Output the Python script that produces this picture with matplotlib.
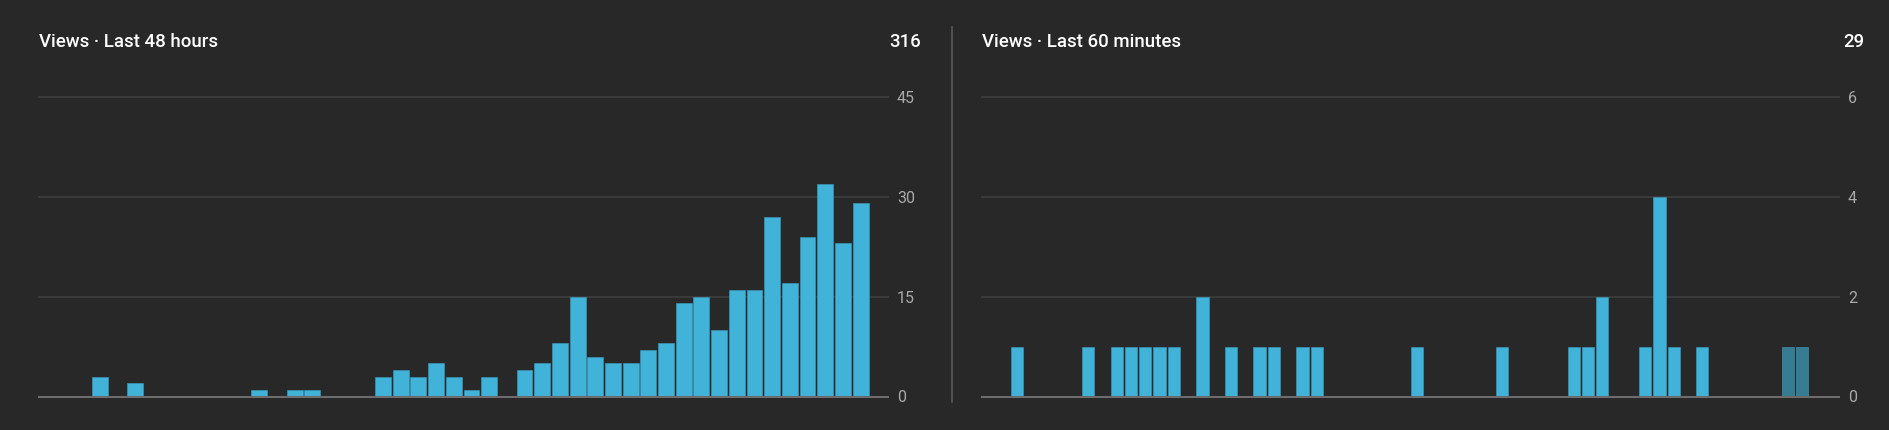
import numpy as np
import matplotlib
matplotlib.use("Agg")
import matplotlib.pyplot as plt

plt.rcParams["font.family"] = ["Roboto", "DejaVu Sans"]

# hourly views, last 48 hours (oldest first)
hours_views = [0, 0, 0, 3, 0, 2, 0, 0, 0, 0, 0, 0, 1, 0, 1, 1,
               0, 0, 0, 3, 4, 3, 5, 3, 1, 3, 0, 4, 5, 8, 15, 6,
               5, 5, 7, 8, 14, 15, 10, 16, 16, 27, 17, 24, 32, 23, 29, 0]
# views per minute, last 60 minutes
minute_views = [0, 0, 1, 0, 0, 0, 0, 1, 0, 1, 1, 1, 1, 1, 0, 2,
                0, 1, 0, 1, 1, 0, 1, 1, 0, 0, 0, 0, 0, 0, 1, 0,
                0, 0, 0, 0, 1, 0, 0, 0, 0, 1, 1, 2, 0, 0, 1, 4,
                1, 0, 1, 0, 0, 0, 0, 0, 1, 1, 0, 0]
# minutes still being counted (drawn darker)
pending_minutes = [56, 57]

left_title = "Views \u00b7 Last 48 hours"
right_title = "Views \u00b7 Last 60 minutes"
left_ticks = [0, 15, 30, 45]
right_ticks = [0, 2, 4, 6]

bg = "#282828"
bar_col = "#41b3d9"
pending_col = "#367d93"
grid_col = "#3a3a3a"
base_col = "#6c6c6c"
tick_col = "#a8a8a8"

W, H = 1889, 430
fig = plt.figure(figsize=(W / 100, H / 100), dpi=100, facecolor=bg)


def make_axes(x0, x1, y_top, y_base):
    ax = fig.add_axes([x0 / W, 1 - y_base / H, (x1 - x0) / W, (y_base - y_top) / H])
    ax.set_facecolor(bg)
    for s in ax.spines.values():
        s.set_visible(False)
    return ax


def draw_panel(ax, values, ticks, width, colors):
    n = len(values)
    ax.set_xlim(0, n)
    ax.set_ylim(ticks[0], ticks[-1])
    for t in ticks[1:]:
        ax.axhline(t, color=grid_col, lw=1.5, clip_on=False, zorder=0)
    ax.axhline(0, color=base_col, lw=1.5, clip_on=False, zorder=3)
    ax.bar(np.arange(n), values, width=width, align="edge", color=colors,
           edgecolor="#3a9fc2", linewidth=0.4, zorder=2)
    ax.set_xticks([])
    ax.yaxis.tick_right()
    ax.set_yticks(ticks)
    ax.set_yticklabels([str(t) for t in ticks])
    ax.tick_params(axis="y", length=0, pad=6.5, labelsize=11.5, labelcolor=tick_col)


ax1 = make_axes(39, 888, 97, 396.5)
draw_panel(ax1, hours_views, left_ticks, 0.9, bar_col)

colors2 = [pending_col if i in pending_minutes else bar_col for i in range(len(minute_views))]
ax2 = make_axes(982, 1839, 97, 396.5)
draw_panel(ax2, minute_views, right_ticks, 0.86, colors2)

# header texts
fs = 13.4
fig.text(39 / W, 1 - 42 / H, left_title, color="white", fontsize=fs,
         fontweight="medium", va="center", ha="left")
fig.text(921 / W, 1 - 42 / H, str(sum(hours_views)), color="white", fontsize=fs,
         fontweight="medium", va="center", ha="right")
fig.text(982 / W, 1 - 42 / H, right_title, color="white", fontsize=fs,
         fontweight="medium", va="center", ha="left")
fig.text(1864 / W, 1 - 42 / H, str(sum(minute_views)), color="white", fontsize=fs,
         fontweight="medium", va="center", ha="right")

# divider between the two panels
fig.add_artist(plt.Line2D([951.5 / W, 951.5 / W], [1 - 27 / H, 1 - 402 / H],
                          color="#5a5a5a", lw=1.2))

fig.savefig("out.png", dpi=100, facecolor=bg)
